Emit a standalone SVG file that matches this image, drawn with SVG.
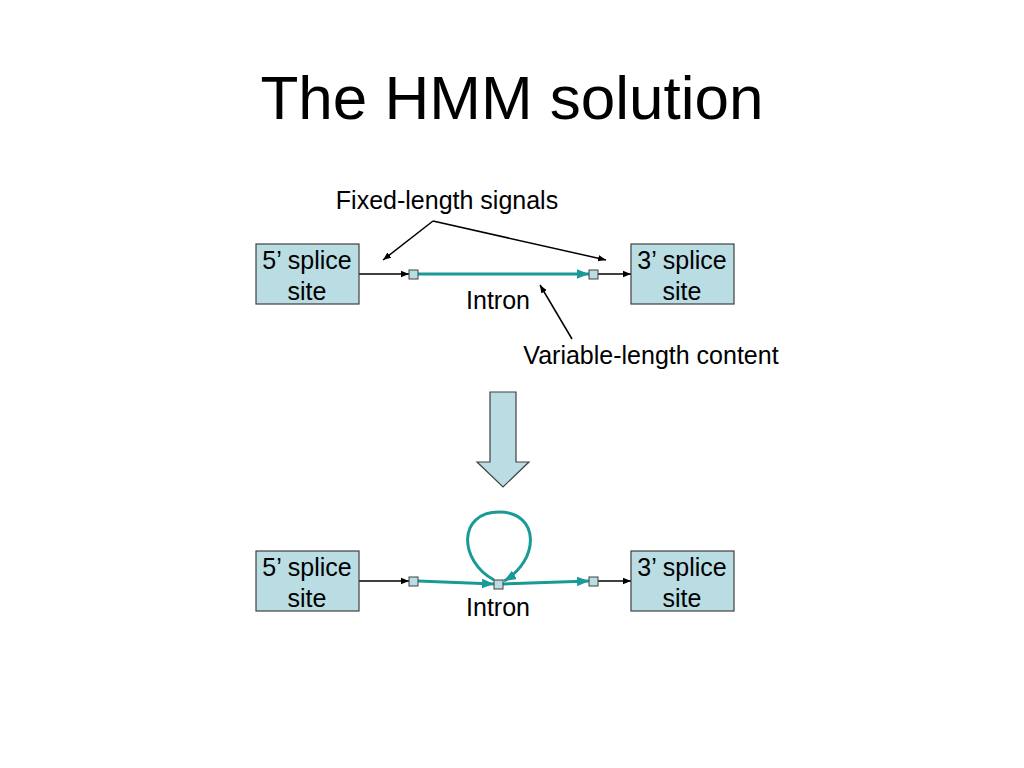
<svg xmlns="http://www.w3.org/2000/svg" width="1024" height="768" viewBox="0 0 1024 768">
<defs>
<style>
text{font-family:"Liberation Sans",Arial,sans-serif;fill:#000}
.box{fill:#b9dde3;stroke:#404040;stroke-width:1.2}
.lbl{font-size:25px;text-anchor:middle}
.ann{font-size:25px}
.sq{fill:#b9dde3;stroke:#404040;stroke-width:1}
.blk{stroke:#000;stroke-width:1.5;fill:none}
.teal{stroke:#1a9a96;stroke-width:3;fill:none}
</style>
<marker id="ab" viewBox="0 0 10 10" refX="10" refY="5" markerWidth="8" markerHeight="8" markerUnits="userSpaceOnUse" orient="auto"><path d="M0,1 L10,5 L0,9 Z" fill="#000"/></marker>
<marker id="at" viewBox="0 0 10 10" refX="10" refY="5" markerWidth="4" markerHeight="4" orient="auto"><path d="M0,1 L10,5 L0,9 Z" fill="#1a9a96"/></marker>
</defs>
<rect width="1024" height="768" fill="#fff"/>
<text x="512" y="119" font-size="62" text-anchor="middle">The HMM solution</text>

<g id="connectors">
<line class="blk" x1="359" y1="274" x2="409" y2="274" marker-end="url(#ab)"/>
<line class="teal" x1="418" y1="274" x2="589" y2="274" marker-end="url(#at)"/>
<line class="blk" x1="598" y1="274" x2="631" y2="274" marker-end="url(#ab)"/>
<line class="blk" x1="433" y1="221" x2="383" y2="260" marker-end="url(#ab)"/>
<line class="blk" x1="433" y1="221" x2="606" y2="260" marker-end="url(#ab)"/>
<line class="blk" x1="572" y1="339" x2="540" y2="285" marker-end="url(#ab)"/>

<line class="blk" x1="359" y1="581" x2="409" y2="581" marker-end="url(#ab)"/>
<line class="teal" x1="418" y1="581" x2="494" y2="584" marker-end="url(#at)"/>
<line class="teal" x1="503" y1="584" x2="589" y2="581" marker-end="url(#at)"/>
<line class="blk" x1="598" y1="581" x2="631" y2="581" marker-end="url(#ab)"/>
<path class="teal" d="M494,580 C458,560 458,512 499,512 C540,512 540,560 504,581" marker-end="url(#at)"/>
</g>

<g id="top-5prime"><rect class="box" x="256" y="244" width="103" height="60"/><text class="lbl" x="307" y="269">5’ splice</text><text class="lbl" x="307" y="300">site</text></g>
<g id="top-3prime"><rect class="box" x="631" y="244" width="103" height="60"/><text class="lbl" x="682" y="269">3’ splice</text><text class="lbl" x="682" y="300">site</text></g>
<g id="top-sq1"><rect class="sq" x="409" y="270" width="9" height="9"/></g>
<g id="top-sq2"><rect class="sq" x="589" y="270" width="9" height="9"/></g>
<g id="top-intron"><text class="ann" x="498" y="309" text-anchor="middle">Intron</text></g>
<g id="fixed-label"><text class="ann" x="447" y="209" text-anchor="middle">Fixed-length signals</text></g>
<g id="variable-label"><text class="ann" x="651" y="364" text-anchor="middle">Variable-length content</text></g>

<g id="big-arrow"><path d="M490,392 H516 V462 H529 L503,487 L477,462 H490 Z" fill="#b9dde3" stroke="#404040" stroke-width="1.2"/></g>

<g id="bot-5prime"><rect class="box" x="256" y="551" width="103" height="60"/><text class="lbl" x="307" y="576">5’ splice</text><text class="lbl" x="307" y="607">site</text></g>
<g id="bot-3prime"><rect class="box" x="631" y="551" width="103" height="60"/><text class="lbl" x="682" y="576">3’ splice</text><text class="lbl" x="682" y="607">site</text></g>
<g id="bot-sq1"><rect class="sq" x="409" y="577" width="9" height="9"/></g>
<g id="bot-sq2"><rect class="sq" x="494" y="580" width="9" height="9"/></g>
<g id="bot-sq3"><rect class="sq" x="589" y="577" width="9" height="9"/></g>
<g id="bot-intron"><text class="ann" x="498" y="616" text-anchor="middle">Intron</text></g>
</svg>
